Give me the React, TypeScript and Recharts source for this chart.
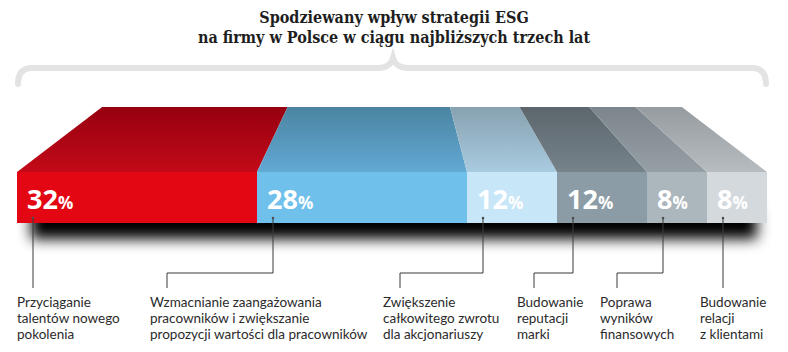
import React from 'react';
import { BarChart, Bar, XAxis, YAxis } from 'recharts';

const title = ['Spodziewany wpływ strategii ESG', 'na firmy w Polsce w ciągu najbliższych trzech lat'];

// one label per segment, already split into lines like in the print version
const categories = [
  ['Przyciąganie', 'talentów nowego', 'pokolenia'],
  ['Wzmacnianie zaangażowania', 'pracowników i zwiększanie', 'propozycji wartości dla pracowników'],
  ['Zwiększenie', 'całkowitego zwrotu', 'dla akcjonariuszy'],
  ['Budowanie', 'reputacji', 'marki'],
  ['Poprawa', 'wyników', 'finansowych'],
  ['Budowanie', 'relacji', 'z klientami'],
];
const values = [32, 28, 12, 12, 8, 8];

const frontColors = ['#e30613', '#6fc1eb', '#c7e6f7', '#8b9ca6', '#abb6bd', '#d3d9dd'];
const topColors = [
  ['#960010', '#c30a18'],
  ['#4b84a1', '#62a9d5'],
  ['#87a1b0', '#a9cbe0'],
  ['#5c666c', '#76838b'],
  ['#7b858b', '#959fa5'],
  ['#979ca0', '#b7bcc0'],
];
// where each label text block starts (layout only)
const labelX = [17, 150, 383, 517, 600, 700];

const W = 788;
const H = 352;
const M = { top: 172, right: 21, bottom: 129, left: 17 };
const DEPTH = 65;
const SHRINK = 0.773;
const CENTER = (M.left + W - M.right) / 2;
const total = values.reduce((a, b) => a + b, 0);

const data = [
  values.reduce((row: Record<string, number | string>, v, i) => {
    row[`s${i}`] = v;
    return row;
  }, { name: 'ESG' }),
];

const Segment = (props: any) => {
  const { x, y, width, height, idx } = props;
  const back = (v: number) => CENTER + (v - CENTER) * SHRINK;
  const x0 = x;
  const x1 = x + width;
  const topY = y - DEPTH;
  const bottom = y + height;
  const ax = x + 16;
  const lx = labelX[idx] + 17;
  const straight = Math.abs(ax - lx) < 8;
  const pts = straight
    ? `${ax},${bottom - 5} ${ax},${bottom + 65}`
    : `${ax},${bottom - 5} ${ax},${bottom + 50} ${lx},${bottom + 50} ${lx},${bottom + 65}`;
  const fullWidth = (width * total) / values[0];

  return (
    <g>
      <defs>
        <linearGradient id={`top-${idx}`} x1="0" y1="0" x2="0" y2="1">
          <stop offset="0%" stopColor={topColors[idx][0]} />
          <stop offset="100%" stopColor={topColors[idx][1]} />
        </linearGradient>
        {idx === 0 && (
          <filter id="shadowBlur" x="-10%" y="-100%" width="120%" height="300%">
            <feGaussianBlur stdDeviation="7" />
          </filter>
        )}
      </defs>
      {idx === 0 && (
        <rect x={x + 14} y={bottom - 14} width={fullWidth - 24} height={30} fill="#000" filter="url(#shadowBlur)" />
      )}
      <polygon
        points={`${x0},${y} ${back(x0)},${topY} ${back(x1)},${topY} ${x1},${y}`}
        fill={`url(#top-${idx})`}
      />
      <rect x={x0} y={y} width={width} height={height} fill={frontColors[idx]} />
      <text x={x0 + 10} y={y + 37} fill="#fff" fontFamily="'Open Sans', sans-serif" fontWeight={700}>
        <tspan fontSize={27}>{values[idx]}</tspan>
        <tspan fontSize={17}>%</tspan>
      </text>
      <circle cx={ax} cy={bottom - 5} r={1.3} fill="#555" />
      <polyline points={pts} fill="none" stroke="#3a3a3a" strokeWidth={1} />
      <text x={labelX[idx]} y={bottom + 84} fill="#2b2b2b" fontFamily="Lato, sans-serif" fontSize={13.5}>
        {categories[idx].map((line, j) => (
          <tspan key={j} x={labelX[idx]} dy={j === 0 ? 0 : 16}>
            {line}
          </tspan>
        ))}
      </text>
    </g>
  );
};

export default function App() {
  return (
    <div style={{ position: 'absolute', left: 0, top: 0, width: W, height: H, background: '#fff' }}>
      <svg width={W} height={H} style={{ position: 'absolute', left: 0, top: 0 }}>
        <text
          x={394}
          y={23}
          textAnchor="middle"
          fontFamily="'DejaVu Serif Condensed', 'DejaVu Serif', serif"
          fontWeight={700}
          fontSize={16}
          fill="#1e1e1e"
        >
          <tspan x={394}>{title[0]}</tspan>
          <tspan x={394} dy={20}>{title[1]}</tspan>
        </text>
        <path
          d="M 18 84 Q 18 68 32 68 L 378 68 Q 390 68 393 58 Q 396 68 408 68 L 752 68 Q 766 68 766 84"
          fill="none"
          stroke="#e3e3e3"
          strokeWidth={6}
          strokeLinecap="round"
        />
      </svg>
      <div style={{ position: 'absolute', left: 0, top: 0 }}>
        <BarChart width={W} height={H} data={data} layout="vertical" margin={M} barCategoryGap={0}>
          <XAxis type="number" domain={[0, total]} hide />
          <YAxis type="category" dataKey="name" hide />
          {values.map((_, i) => (
            <Bar
              key={i}
              dataKey={`s${i}`}
              stackId="a"
              isAnimationActive={false}
              shape={(p: any) => <Segment {...p} idx={i} />}
            />
          ))}
        </BarChart>
      </div>
    </div>
  );
}
